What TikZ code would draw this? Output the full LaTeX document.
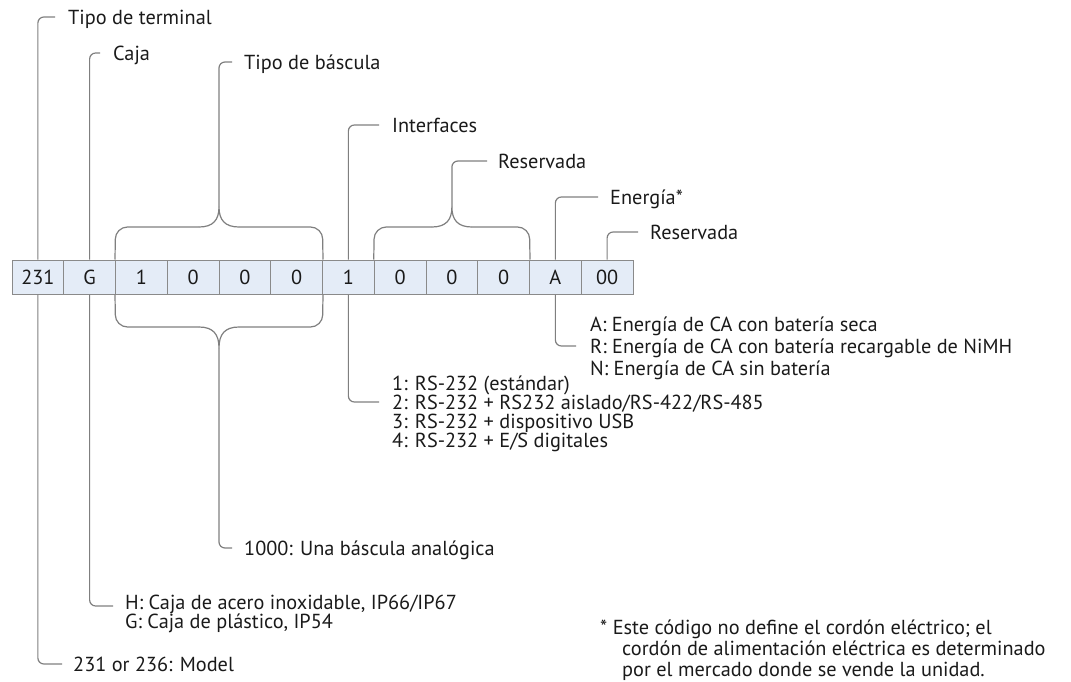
\documentclass[tikz,border=0pt]{standalone}
\usepackage{fontspec}
\setmainfont{PT Sans}
\newcommand\lblfont{\fontsize{20.3}{23}\selectfont}
\definecolor{boxfill}{HTML}{E4ECF7}
\definecolor{boxline}{HTML}{8A8A8A}
\definecolor{ldr}{HTML}{7F7F7F}
\definecolor{txt}{HTML}{1A1A1A}
\begin{document}
\begin{tikzpicture}[x=1pt,y=-1pt,
  cell/.style={draw=boxline,fill=boxfill,minimum width=51.75pt,minimum height=34pt,inner sep=0pt,line width=1pt,font=\lblfont,text=txt},
  lbl/.style={anchor=west,inner sep=0pt,text height=14pt,text depth=0pt,font=\lblfont,text=txt},
  lead/.style={draw=ldr,line width=1.2pt,rounded corners=6pt},
  brace/.style={draw=ldr,line width=1.2pt,rounded corners=12pt},
]
\useasboundingbox (0,0) rectangle (1071,681);

% code cells
\foreach \t [count=\i] in {231,G,1,0,0,0,1,0,0,0,A,00}
  \node[cell] (c\i) at ({12+51.75*(\i-0.5)},277) {\t};

% top labels
\node[lbl] (tTerm) at (68,17) {Tipo de terminal};
\node[lbl] (tCaja) at (113,53) {Caja};
\node[lbl] (tBasc) at (244,62) {Tipo de báscula};
\node[lbl] (tIntf) at (392,125) {Interfaces};
\node[lbl] (tRes1) at (498,161) {Reservada};
\node[lbl] (tEner) at (610,197) {Energía*};
\node[lbl] (tRes2) at (650,232) {Reservada};

% bottom labels
\node[lbl] (bBasc) at (244,548) {1000: Una báscula analógica};
\node[lbl] (i1) at (392,383) {1: RS-232 (estándar)};
\node[lbl] (i2) at (392,402) {2: RS-232 + RS232 aislado/RS-422/RS-485};
\node[lbl] (i3) at (392,421) {3: RS-232 + dispositivo USB};
\node[lbl] (i4) at (392,440) {4: RS-232 + E/S digitales};
\node[lbl] (p1) at (590,324) {A: Energía de CA con batería seca};
\node[lbl] (p2) at (590,346) {R: Energía de CA con batería recargable de NiMH};
\node[lbl] (p3) at (590,368) {N: Energía de CA sin batería};
\node[lbl] (h1) at (125,602) {H: Caja de acero inoxidable, IP66/IP67};
\node[lbl] (h2) at (125,621) {G: Caja de plástico, IP54};
\node[lbl] (m1) at (73,664) {231 or 236: Model};
\node[lbl] (f1) at (600,627) {* Este código no define el cordón eléctrico; el};
\node[lbl] (f2) at (622,648) {cordón de alimentación eléctrica es determinado};
\node[lbl] (f3) at (622,669) {por el mercado donde se vende la unidad.};

% top leaders
\draw[lead] (c1.north) |- ([xshift=-13pt]tTerm.west);
\draw[lead] (c2.north) |- ([xshift=-13pt]tCaja.west);
\draw[lead] (c7.north) |- ([xshift=-13pt]tIntf.west);
\draw[lead] (c11.north) |- ([xshift=-12pt]tEner.west);
\draw[lead] (c12.north) |- ([xshift=-12pt]tRes2.west);

% braces (top)
\coordinate (bT1) at (219,207);
\coordinate (bT2) at (451.9,207);
\draw[brace] (c3.north west) -- (115.5,227) -- (199,227);
\draw[draw=ldr,line width=1.2pt] (199,227) .. controls (213,227) and (219,220) .. (bT1)
  .. controls (219,220) and (225,227) .. (239,227);
\draw[brace] (239,227) -- (322.5,227) -- (c6.north east);
\draw[brace] (c8.north west) -- (374.25,227) -- (431.9,227);
\draw[draw=ldr,line width=1.2pt] (431.9,227) .. controls (445.9,227) and (451.9,220) .. (bT2)
  .. controls (451.9,220) and (457.9,227) .. (471.9,227);
\draw[brace] (471.9,227) -- (529.5,227) -- (c10.north east);
\draw[lead] (bT1) |- ([xshift=-12pt]tBasc.west);
\draw[lead] (bT2) |- ([xshift=-11pt]tRes1.west);

% brace (bottom)
\coordinate (bB1) at (219,348);
\draw[brace] (c3.south west) -- (115.5,327) -- (199,327);
\draw[draw=ldr,line width=1.2pt] (199,327) .. controls (213,327) and (219,334) .. (bB1)
  .. controls (219,334) and (225,327) .. (239,327);
\draw[brace] (239,327) -- (322.5,327) -- (c6.south east);

% bottom leaders
\draw[lead] (bB1) |- ([xshift=-12pt]bBasc.west);
\draw[lead] (c1.south) |- ([xshift=-11pt]m1.west);
\draw[lead] (c2.south) |- ([xshift=-12pt,yshift=-4pt]h1.west);
\draw[lead] (c7.south) |- ([xshift=-13pt]i2.west);
\draw[lead] (c11.south) |- ([xshift=-14pt]p2.west);
\end{tikzpicture}
\end{document}
